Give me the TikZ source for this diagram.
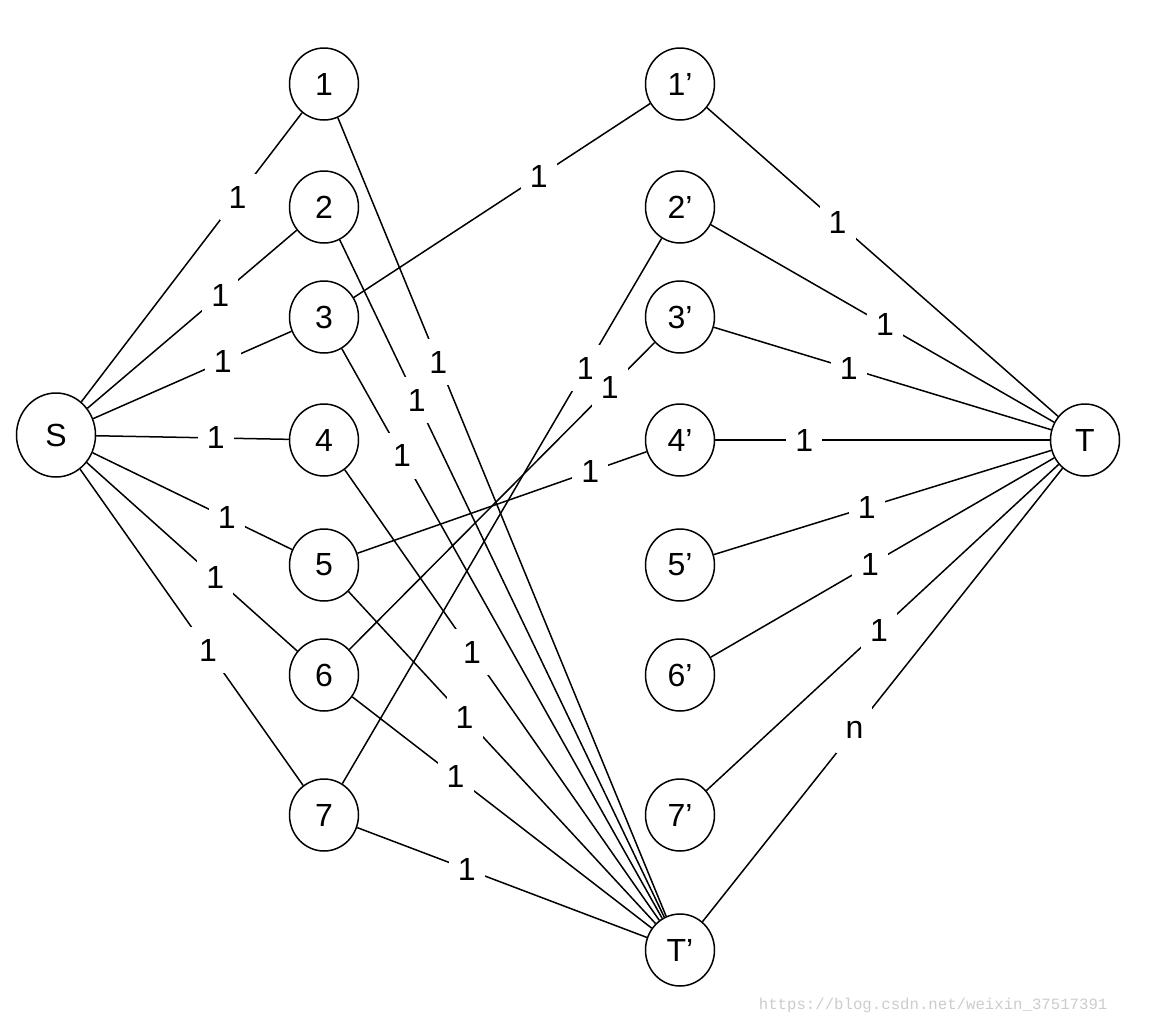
\documentclass[tikz,border=0pt]{standalone}
\usepackage{fontspec}
\setmainfont{Liberation Sans}
\newfontfamily\wmfont{Liberation Mono}
\usetikzlibrary{shapes.geometric}

\begin{document}
\begin{tikzpicture}[
  x=1pt, y=-1pt,
  every node/.style = {font=\fontsize{32}{36}\selectfont},
  vtx/.style  = {ellipse, draw, line width=1.5pt, minimum width=69pt, minimum height=72pt, inner sep=0pt},
  src/.style  = {vtx, minimum width=79pt, minimum height=84pt},
  lbl/.style  = {fill=white, inner sep=0pt, minimum width=36pt, minimum height=46pt},
  wire/.style = {line width=1.5pt}
]
\useasboundingbox (0,0) rectangle (1152,1028);

% vertices
\node[src] (S) at (56,435)  {S};
\foreach \i/\y in {1/84,2/207,3/317,4/440,5/565,6/675,7/815}{
  \node[vtx] (n\i) at (324,\y) {\i};
  \node[vtx] (m\i) at (680,\y) {\i’};
}
\node[vtx] (Tp) at (680,950)  {T’};
\node[vtx] (T)  at (1085,440) {T};

% source side
\foreach \i/\p in {1/0.708,2/0.635,3/0.653,4/0.621,5/0.673,6/0.61,7/0.573}
  \draw[wire] (S) -- node[lbl, pos=\p]{1} (n\i);

% left column to T'
\foreach \i/\p in {1/0.306,2/0.237,3/0.188,4/0.405,5/0.378,6/0.345,7/0.378}
  \draw[wire] (n\i) -- node[lbl, pos=\p]{1} (Tp);

% matched pairs
\draw[wire] (n3) -- node[lbl, pos=0.624]{1} (m1);
\draw[wire] (n7) -- node[lbl, pos=0.762]{1} (m2);
\draw[wire] (n6) -- node[lbl, pos=0.853]{1} (m3);
\draw[wire] (n5) -- node[lbl, pos=0.805]{1} (m4);

% sink side
\foreach \i/\p in {1/0.372,2/0.507,3/0.40,4/0.266,5/0.453,6/0.464,7/0.49}
  \draw[wire] (m\i) -- node[lbl, pos=\p]{1} (T);
\draw[wire] (Tp) -- node[lbl, pos=0.422]{n} (T);

\node[font=\wmfont\fontsize{15.7}{18}\selectfont, text=gray!40, anchor=east] (wm) at (1111,1005) {https://blog.csdn.net/weixin\_37517391};
\end{tikzpicture}
\end{document}
